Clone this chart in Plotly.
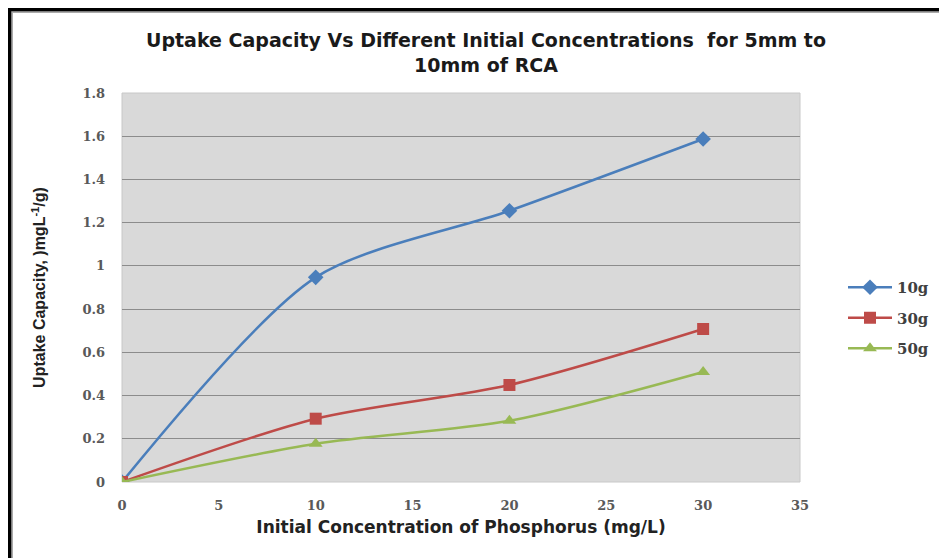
import plotly.graph_objects as go

conc = [0, 10, 20, 30]
series_names = ["10g", "30g", "50g"]
uptake_10g = [0, 0.947, 1.255, 1.587]
uptake_30g = [0, 0.293, 0.449, 0.708]
uptake_50g = [0, 0.177, 0.283, 0.509]
colors = ["#4A7EBB", "#BE4B48", "#98B954"]
symbols = ["diamond", "square", "triangle-up"]
x_ticks = [0, 5, 10, 15, 20, 25, 30, 35]
y_ticks = [0, 0.2, 0.4, 0.6, 0.8, 1, 1.2, 1.4, 1.6, 1.8]
y_tick_text = ["0", "0.2", "0.4", "0.6", "0.8", "1", "1.2", "1.4", "1.6", "1.8"]

fig = go.Figure()
for name, vals, c, s in zip(series_names, [uptake_10g, uptake_30g, uptake_50g], colors, symbols):
    fig.add_trace(go.Scatter(
        x=conc, y=vals, name=name, mode="lines+markers", legendgroup=name,
        line=dict(color=c, width=2.5, shape="spline", smoothing=0.8),
        marker=dict(symbol=s, size=12, color=c),
    ))

OFF = 8  # page body margin
W, H = 947 - OFF, 558 - OFF
# target plot area in screen pixels
SL, SR, ST, SB = 122, 800, 93, 482
L, T = SL - OFF, ST - OFF
R, B = W - (SR - OFF), H - (SB - OFF)
pw, ph = W - L - R, H - T - B

def px(fx):
    return (fx - L) / pw

def py(fy):
    return (H - B - fy) / ph

def sx(x):
    return px(x - OFF)

def sy(y):
    return py(y - OFF)

tick_font = dict(family="DejaVu Serif", size=13, color="#595959", weight="bold")

fig.update_layout(
    width=W, height=H,
    margin=dict(l=L, r=R, t=T, b=B),
    paper_bgcolor="white",
    plot_bgcolor="#D9D9D9",
    title=dict(
        text="Uptake Capacity Vs Different Initial Concentrations  for 5mm to<br>10mm of RCA",
        x=(486 - OFF) / W, xanchor="center", y=1 - (47 - OFF) / H, yanchor="middle",
        font=dict(family="DejaVu Sans", size=19, color="#1a1a1a", weight="bold"),
    ),
    xaxis=dict(
        range=[0, 35], tickvals=x_ticks, showgrid=False, zeroline=False,
        showline=False, ticks="", ticklabelstandoff=14,
        tickfont=tick_font,
        title=dict(text="Initial Concentration of Phosphorus (mg/L)",
                   font=dict(family="DejaVu Sans", size=17, color="#222222", weight="bold"),
                   standoff=9),
    ),
    yaxis=dict(
        range=[0, 1.8], tickvals=y_ticks, ticktext=y_tick_text,
        showgrid=True, gridcolor="#8C8C8C", gridwidth=1, zeroline=False,
        showline=False, ticks="", ticklabelstandoff=16,
        tickfont=tick_font,
        title=dict(text="Uptake Capacity, )mgL<sup>-1</sup>/g)",
                   font=dict(family="Liberation Sans", size=16, color="#222222", weight="bold"),
                   standoff=32),
    ),
    legend=dict(
        x=sx(843), y=sy(271), xanchor="left", yanchor="top",
        bgcolor="rgba(0,0,0,0)",
        font=dict(family="DejaVu Serif", size=15, color="#404040", weight="bold"),
        tracegroupgap=8, itemwidth=44,
    ),
    showlegend=True,
)

# outer black frame (left and top edges), drawn at the figure's edge
fig.add_shape(type="path", xref="paper", yref="paper",
              path=f"M {px(4)} {py(H+40)} L {px(4)} {py(4)} L {px(W+40)} {py(4)}",
              line=dict(color="#AAAAAA", width=2))
fig.add_shape(type="path", xref="paper", yref="paper",
              path=f"M {px(1.5)} {py(H+40)} L {px(1.5)} {py(1.5)} L {px(W+40)} {py(1.5)}",
              line=dict(color="black", width=3.5))
fig.add_shape(type="rect", xref="paper", yref="paper", x0=0, x1=1, y0=0, y1=1,
              line=dict(color="#C8C8C8", width=1), layer="below")

fig.write_html("out.html")
